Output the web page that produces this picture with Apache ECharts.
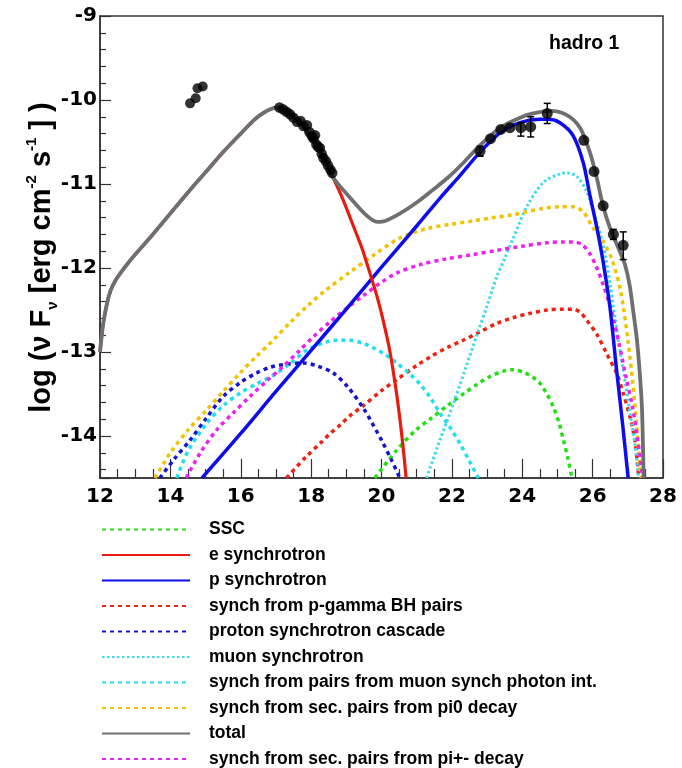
<!DOCTYPE html>
<html>
<head>
<meta charset="utf-8">
<script src="https://cdn.jsdelivr.net/npm/echarts@6/dist/echarts.min.js"></script>
<style>
  html, body { margin: 0; padding: 0; background: #fff; }
  #chart { width: 682px; height: 768px; }
</style>
</head>
<body>
<div id="chart"></div>
<script>
// Axis ranges (log10 of frequency in Hz, log10 of nu F_nu)
const xRange = [12, 28];
const yRange = [-14.5, -9];

// Model components: [log nu, log nuFnu]
const sscCurve = [[19.81,-14.5],[20.43,-14.17],[21.0,-13.92],[21.38,-13.8],[21.9,-13.63],[22.32,-13.5],[22.7,-13.39],[23.09,-13.29],[23.45,-13.23],[23.74,-13.21],[24.02,-13.24],[24.3,-13.3],[24.5,-13.37],[24.7,-13.5],[24.88,-13.65],[25.05,-13.85],[25.17,-14.05],[25.3,-14.27],[25.41,-14.5]];

const totalCurve = [[12.0,-13.0],[12.05,-12.8],[12.1,-12.64],[12.2,-12.42],[12.3,-12.27],[12.45,-12.14],[12.6,-12.05],[12.8,-11.94],[13.0,-11.84],[13.5,-11.6],[14.0,-11.35],[14.5,-11.1],[15.0,-10.86],[15.5,-10.62],[16.0,-10.4],[16.4,-10.23],[16.7,-10.14],[17.0,-10.09],[17.15,-10.09],[17.4,-10.15],[17.7,-10.28],[18.0,-10.45],[18.3,-10.65],[18.62,-10.92],[19.1,-11.16],[19.59,-11.38],[19.87,-11.45],[20.1,-11.44],[20.53,-11.35],[21.0,-11.22],[21.46,-11.07],[21.9,-10.92],[22.32,-10.75],[22.8,-10.54],[23.37,-10.33],[23.94,-10.21],[24.31,-10.16],[24.79,-10.13],[25.27,-10.18],[25.64,-10.33],[25.92,-10.62],[26.12,-10.93],[26.29,-11.25],[26.49,-11.52],[26.78,-11.81],[26.92,-11.96],[27.05,-12.2],[27.15,-12.5],[27.26,-12.86],[27.34,-13.25],[27.4,-13.65],[27.43,-14.1],[27.45,-14.5]];

const eSynchCurve = [[12.0,-13.0],[12.05,-12.8],[12.1,-12.64],[12.2,-12.42],[12.3,-12.27],[12.45,-12.14],[12.6,-12.05],[12.8,-11.94],[13.0,-11.84],[13.5,-11.6],[14.0,-11.35],[14.5,-11.1],[15.0,-10.86],[15.5,-10.62],[16.0,-10.4],[16.4,-10.23],[16.7,-10.14],[17.0,-10.09],[17.15,-10.09],[17.4,-10.15],[17.7,-10.28],[18.0,-10.45],[18.3,-10.65],[18.62,-10.92],[18.9,-11.18],[19.2,-11.5],[19.45,-11.77],[19.7,-12.1],[19.9,-12.38],[20.1,-12.72],[20.25,-13.02],[20.43,-13.5],[20.58,-14.0],[20.7,-14.5]];

const pSynchCurve = [[14.9,-14.5],[16.0,-13.97],[17.0,-13.47],[18.0,-12.98],[19.0,-12.49],[20.0,-11.99],[21.0,-11.5],[21.7,-11.15],[22.23,-10.9],[22.8,-10.62],[23.37,-10.39],[23.94,-10.27],[24.5,-10.23],[24.75,-10.23],[25.07,-10.27],[25.44,-10.42],[25.73,-10.74],[25.92,-11.13],[26.12,-11.52],[26.3,-11.93],[26.49,-12.46],[26.69,-13.25],[26.86,-13.89],[27.01,-14.5]];

const bhPairsCurve = [[17.3,-14.5],[17.85,-14.25],[18.3,-14.07],[18.54,-13.97],[18.82,-13.87],[19.1,-13.76],[19.48,-13.64],[20.0,-13.46],[20.43,-13.33],[21.0,-13.16],[21.38,-13.06],[21.9,-12.94],[22.32,-12.86],[22.8,-12.76],[23.28,-12.66],[23.75,-12.59],[24.22,-12.54],[24.7,-12.5],[25.17,-12.49],[25.45,-12.49],[25.65,-12.53],[25.83,-12.62],[26.12,-12.79],[26.4,-13.02],[26.69,-13.26],[26.87,-13.49],[27.06,-13.77],[27.2,-14.05],[27.29,-14.4],[27.31,-14.5]];

const cascadeCurve = [[13.7,-14.5],[14.1,-14.28],[14.56,-14.05],[15.0,-13.8],[15.5,-13.53],[16.0,-13.36],[16.45,-13.25],[16.85,-13.18],[17.21,-13.15],[17.78,-13.13],[18.2,-13.17],[18.63,-13.25],[19.05,-13.42],[19.5,-13.68],[20.0,-14.05],[20.3,-14.3],[20.52,-14.5]];

const muonSynchCurve = [[21.28,-14.5],[21.65,-14.06],[22.04,-13.62],[22.4,-13.18],[22.71,-12.8],[23.0,-12.45],[23.28,-12.1],[23.51,-11.88],[23.74,-11.65],[24.13,-11.27],[24.6,-10.98],[25.07,-10.88],[25.26,-10.87],[25.55,-10.91],[25.83,-11.09],[26.11,-11.45],[26.3,-11.72],[26.5,-12.2],[26.73,-12.86],[26.92,-13.35],[27.11,-13.85],[27.22,-14.15],[27.3,-14.5]];

const muonPairsCurve = [[14.18,-14.5],[14.5,-14.18],[15.03,-13.85],[15.5,-13.64],[15.98,-13.49],[16.45,-13.38],[16.92,-13.28],[17.4,-13.14],[17.87,-12.98],[18.44,-12.88],[18.8,-12.86],[19.1,-12.86],[19.5,-12.9],[19.77,-12.95],[20.1,-13.03],[20.43,-13.13],[20.8,-13.26],[21.09,-13.38],[21.4,-13.55],[21.66,-13.73],[21.95,-13.9],[22.23,-14.09],[22.5,-14.3],[22.75,-14.5]];

const pi0Curve = [[13.56,-14.5],[14.0,-14.2],[14.5,-13.93],[15.03,-13.69],[15.5,-13.47],[15.98,-13.25],[16.45,-13.05],[16.92,-12.86],[17.4,-12.65],[17.9,-12.45],[18.4,-12.27],[19.1,-12.05],[19.8,-11.84],[20.53,-11.64],[21.3,-11.53],[21.95,-11.48],[22.6,-11.44],[23.18,-11.4],[23.7,-11.37],[24.13,-11.33],[24.6,-11.29],[25.07,-11.27],[25.44,-11.27],[25.73,-11.33],[26.01,-11.52],[26.3,-11.68],[26.55,-11.9],[26.78,-12.24],[27.0,-12.85],[27.2,-13.62],[27.33,-14.3],[27.38,-14.5]];

const piPmCurve = [[14.45,-14.5],[14.85,-14.2],[15.31,-13.93],[15.8,-13.72],[16.26,-13.53],[16.75,-13.34],[17.21,-13.17],[17.65,-12.99],[18.06,-12.82],[18.54,-12.64],[19.1,-12.45],[19.48,-12.33],[20.0,-12.17],[20.43,-12.06],[21.1,-11.96],[21.86,-11.89],[22.6,-11.84],[23.28,-11.79],[24.0,-11.74],[24.7,-11.7],[25.16,-11.69],[25.45,-11.69],[25.7,-11.72],[25.92,-11.83],[26.12,-12.0],[26.3,-12.2],[26.5,-12.46],[26.75,-12.9],[26.95,-13.3],[27.13,-13.65],[27.3,-14.1],[27.42,-14.5]];

// Observations
const opticalPoints = [[14.56,-10.04],[14.72,-9.98],[14.77,-9.86],[14.92,-9.84]];
const xrayPoints = [[17.10,-10.09],[17.2,-10.11],[17.3,-10.14],[17.4,-10.17],[17.5,-10.21],[17.6,-10.26],[17.7,-10.25],[17.78,-10.31],[17.88,-10.3],[17.95,-10.38],[18.02,-10.43],[18.07,-10.46],[18.11,-10.42],[18.15,-10.53],[18.2,-10.56],[18.25,-10.57],[18.3,-10.64],[18.35,-10.69],[18.42,-10.73],[18.48,-10.78],[18.55,-10.83],[18.6,-10.87]];
const gammaPoints = [[22.8,-10.61],[23.1,-10.46],[23.39,-10.35],[23.65,-10.33],[23.96,-10.33],[24.24,-10.32],[24.71,-10.16],[25.75,-10.48],[26.04,-10.85],[26.3,-11.26],[26.59,-11.6],[26.87,-11.73]];
// [log nu, lower, upper]
const gammaErrors = [[22.8,-10.67,-10.55],[23.96,-10.43,-10.27],[24.24,-10.44,-10.2],[24.71,-10.28,-10.04],[26.59,-11.66,-11.54],[26.87,-11.9,-11.57]];

const FONT = '"Liberation Sans", Arial, Helvetica, sans-serif';
const TICK_FONT = '"DejaVu Sans", Verdana, sans-serif';

const legendNames = [
  'SSC',
  'e synchrotron',
  'p synchrotron',
  'synch from p-gamma BH pairs',
  'proton synchrotron cascade',
  'muon synchrotron',
  'synch from pairs from muon synch photon int.',
  'synch from sec. pairs from pi0 decay',
  'total',
  'synch from sec. pairs from pi+- decay'
];

function curve(name, data, color, width, dash) {
  return {
    name: name,
    type: 'line',
    data: data,
    smooth: 0.3,
    symbol: 'none',
    clip: true,
    lineStyle: { color: color, width: width, type: dash || 'solid', cap: 'butt' },
    itemStyle: { color: color },
    z: 2
  };
}

const chart = echarts.init(document.getElementById('chart'), null, { renderer: 'canvas' });

chart.setOption({
  animation: false,
  backgroundColor: '#ffffff',
  title: {
    text: 'hadro 1',
    left: 544,
    top: 29,
    textStyle: { fontFamily: FONT, fontSize: 19.5, fontWeight: 'bold', color: '#000' }
  },
  grid: {
    left: 100, right: 19, top: 16, bottom: 290,
    show: true, borderColor: '#333', borderWidth: 1.5, backgroundColor: 'transparent'
  },
  legend: {
    orient: 'vertical',
    left: 101,
    top: 520.5,
    height: 262,
    padding: 0,
    itemWidth: 88,
    itemHeight: 14,
    itemGap: 7.5,
    data: legendNames,
    textStyle: { fontFamily: FONT, fontSize: 17.5, lineHeight: 17, fontWeight: 'bold', color: '#000', padding: [0, 0, 0, 14] },
    itemStyle: { opacity: 0 }
  },
  xAxis: {
    type: 'value',
    min: xRange[0], max: xRange[1], interval: 2,
    axisLine: { lineStyle: { color: '#333', width: 1.5 } },
    axisTick: { inside: true, length: 19, lineStyle: { color: '#333', width: 1.2 } },
    minorTick: { show: true, splitNumber: 4, length: 9, lineStyle: { color: '#333', width: 1.2 } },
    splitLine: { show: false },
    axisLabel: { margin: 9, fontFamily: TICK_FONT, fontSize: 20, fontWeight: 'bold', color: '#000' }
  },
  yAxis: {
    type: 'value',
    min: yRange[0], max: yRange[1],
    minInterval: 1, maxInterval: 1,
    axisLine: { lineStyle: { color: '#333', width: 1.5 } },
    axisTick: { inside: true, length: 11, lineStyle: { color: '#333', width: 1.2 } },
    minorTick: { show: true, splitNumber: 5, length: 6, lineStyle: { color: '#333', width: 1.2 } },
    splitLine: { show: false },
    axisLabel: {
      margin: 3, fontFamily: TICK_FONT, fontSize: 20, fontWeight: 'bold', color: '#000',
      formatter: function (v) { return Math.abs(v - Math.round(v)) < 1e-6 ? String(Math.round(v)) : ''; }
    },
    name: '{a|log (ν F}{sub|ν}{a| [erg cm}{sup|-2}{a| s}{sup|-1}{a| ] )}{gap|}',
    nameLocation: 'middle',
    nameRotate: 90,
    nameGap: 40,
    nameMoveOverlap: false,
    nameTextStyle: {
      rich: {
        a: { fontFamily: FONT, fontSize: 29, fontWeight: 'bold', color: '#000', lineHeight: 36, verticalAlign: 'middle' },
        sub: { fontFamily: FONT, fontSize: 15, fontWeight: 'bold', color: '#000', lineHeight: 36, verticalAlign: 'bottom' },
        sup: { fontFamily: FONT, fontSize: 15, fontWeight: 'bold', color: '#000', lineHeight: 36, verticalAlign: 'top' },
        gap: { width: 21, lineHeight: 36 }
      }
    }
  },
  series: [
    curve('SSC', sscCurve, '#22e011', 3.5, [4, 4]),
    curve('synch from p-gamma BH pairs', bhPairsCurve, '#ee2211', 3.5, [4, 4]),
    curve('proton synchrotron cascade', cascadeCurve, '#1414d2', 3.5, [4, 4]),
    curve('synch from pairs from muon synch photon int.', muonPairsCurve, '#22dfee', 3.5, [4, 4]),
    curve('muon synchrotron', muonSynchCurve, '#3cdbe8', 3, [2.5, 2.5]),
    curve('synch from sec. pairs from pi0 decay', pi0Curve, '#f2c200', 3.5, [4, 4]),
    curve('synch from sec. pairs from pi+- decay', piPmCurve, '#ee22ee', 3.5, [4, 4]),
    curve('p synchrotron', pSynchCurve, '#0c0cee', 3.5),
    curve('e synchrotron', eSynchCurve, '#e81c0e', 3.2),
    curve('total', totalCurve, '#6f6f6f', 3.8),
    {
      name: 'gamma errors',
      type: 'custom',
      data: gammaErrors,
      encode: { x: 0, y: [1, 2] },
      z: 5,
      renderItem: function (params, api) {
        const x = api.value(0);
        const lo = api.coord([x, api.value(1)]);
        const hi = api.coord([x, api.value(2)]);
        const cap = 3.5;
        const st = { stroke: '#000', lineWidth: 1.5 };
        return {
          type: 'group',
          children: [
            { type: 'line', shape: { x1: lo[0], y1: lo[1], x2: hi[0], y2: hi[1] }, style: st },
            { type: 'line', shape: { x1: hi[0] - cap, y1: hi[1], x2: hi[0] + cap, y2: hi[1] }, style: st },
            { type: 'line', shape: { x1: lo[0] - cap, y1: lo[1], x2: lo[0] + cap, y2: lo[1] }, style: st }
          ]
        };
      }
    },
    { name: 'optical', type: 'scatter', data: opticalPoints, symbol: 'circle', symbolSize: 10, itemStyle: { color: '#000' }, z: 6 },
    { name: 'X-ray', type: 'scatter', data: xrayPoints, symbol: 'circle', symbolSize: 10.5, itemStyle: { color: '#000' }, z: 6 },
    { name: 'gamma-ray', type: 'scatter', data: gammaPoints, symbol: 'circle', symbolSize: 11, itemStyle: { color: '#000' }, z: 6 }
  ]
});
</script>
</body>
</html>
